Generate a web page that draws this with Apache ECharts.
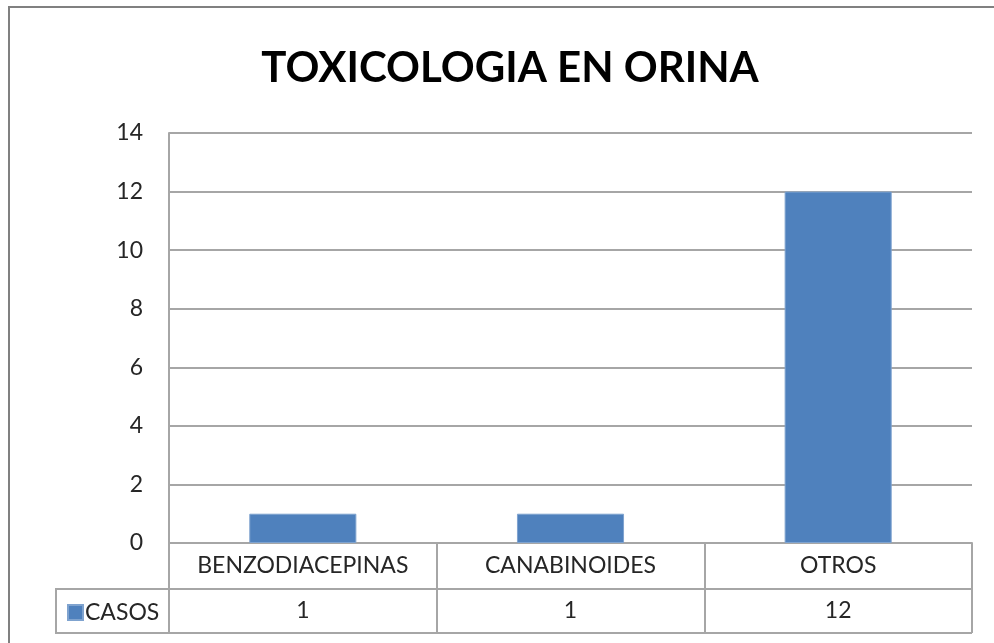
<!DOCTYPE html>
<html>
<head>
<meta charset="utf-8">
<script src="https://cdn.jsdelivr.net/npm/echarts@6/dist/echarts.min.js"></script>
<style>
    html, body { margin: 0; padding: 0; background: #fff; }
    #chart { width: 994px; height: 643px; }
</style>
</head>
<body>
<div id="chart"></div>
<script>
// datos del grafico
var categorias = ['BENZODIACEPINAS', 'CANABINOIDES', 'OTROS'];
var casos = [1, 1, 12];
var serieNombre = 'CASOS';
var yTicks = [0, 2, 4, 6, 8, 10, 12, 14];

var fuente = 'Lato, "Open Sans", sans-serif';
var gris = '#a6a6a6';
var azul = '#4f81bd';

var myChart = echarts.init(document.getElementById('chart'));

var option = {
    animation: false,
    backgroundColor: '#fff',
    textStyle: { fontFamily: fuente },
    title: {
        text: 'TOXICOLOGIA EN ORINA',
        left: 505,
        textAlign: 'center',
        top: 42,
        textStyle: { fontSize: 42, fontWeight: 'bold', color: '#000', fontFamily: fuente }
    },
    legend: {
        data: [serieNombre],
        left: 62,
        top: 596,
        itemWidth: 15,
        itemHeight: 15,
        itemGap: 4,
        icon: 'rect',
        textStyle: { fontSize: 23, color: '#262626', padding: [0, 0, 0, -3] }
    },
    grid: { left: 169, right: 22, top: 133, bottom: 100 },
    xAxis: [{
        type: 'category',
        data: categorias,
        axisLine: { lineStyle: { color: gris, width: 2 } },
        axisTick: { show: true, interval: 0, length: 46, lineStyle: { color: gris, width: 2 } },
        axisLabel: { interval: 0, fontSize: 23, color: '#262626', margin: 11 }
    }, {
        // fila de valores de la tabla
        type: 'category',
        position: 'bottom',
        offset: 46,
        data: casos.map(String),
        axisLine: { lineStyle: { color: gris, width: 2 } },
        axisTick: { show: true, interval: 0, length: 44, lineStyle: { color: gris, width: 2 } },
        axisLabel: { interval: 0, fontSize: 23, color: '#262626', margin: 10 }
    }],
    yAxis: {
        type: 'value',
        min: yTicks[0],
        max: yTicks[yTicks.length - 1],
        interval: 2,
        axisLine: { show: true, lineStyle: { color: gris, width: 2 } },
        axisTick: { show: false },
        axisLabel: { fontSize: 23, color: '#262626', margin: 26 },
        splitLine: { lineStyle: { color: gris, width: 2 } }
    },
    series: [{
        name: serieNombre,
        type: 'bar',
        data: casos,
        barWidth: '40%',
        itemStyle: { color: azul, borderColor: '#7fa3cf', borderWidth: 1 }
    }],
    graphic: [
        // borde exterior
        { type: 'rect', shape: { x: 9, y: 7, width: 990, height: 650 }, style: { fill: 'none', stroke: '#808080', lineWidth: 2 }, silent: true },
        // parte izquierda de la tabla (fila CASOS)
        { type: 'polyline', shape: { points: [[169, 589], [56, 589], [56, 633], [972, 633]] }, style: { fill: 'none', stroke: gris, lineWidth: 2 }, silent: true }
    ]
};

myChart.setOption(option);
</script>
</body>
</html>
